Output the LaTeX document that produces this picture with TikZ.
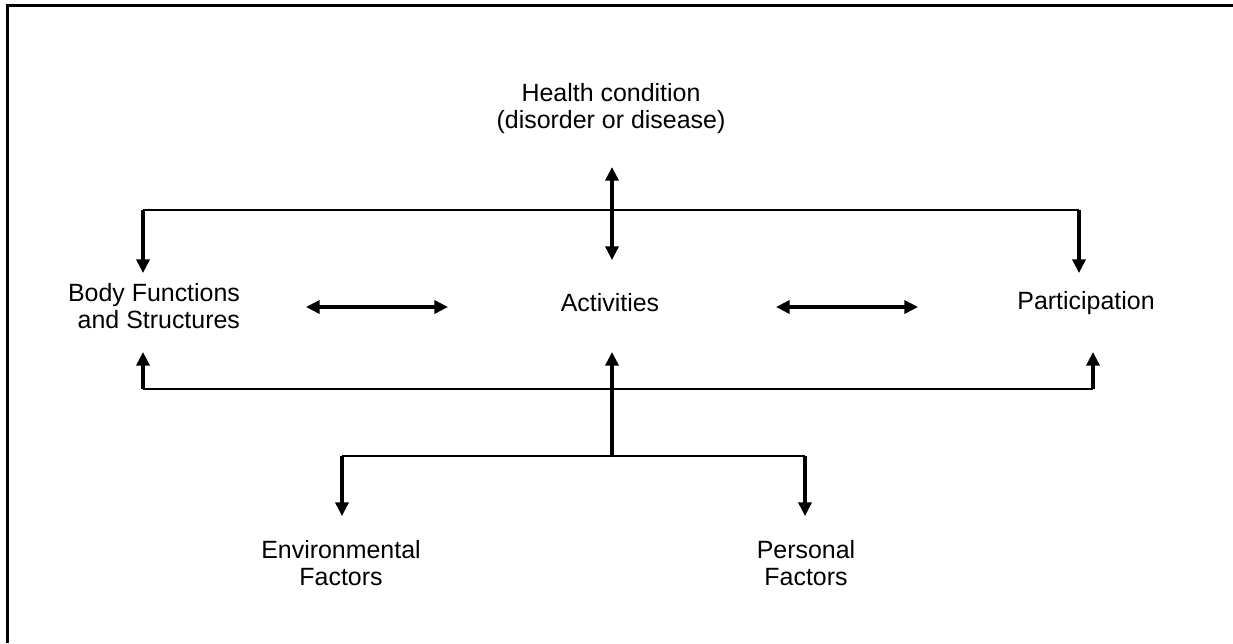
\documentclass[tikz,border=0pt]{standalone}
\usepackage{fontspec}
\setmainfont{Liberation Sans}
\usetikzlibrary{arrows.meta}
\tikzset {
    label text/.style={
        font=\fontsize{14.2}{15.4}\selectfont,
        align=center,
        inner sep=0pt,
    },
    frame line/.style={
        draw=black,
        line width=1.6pt,
    },
    thin line/.style={
        draw=black,
        line width=0.85pt,
    },
    arrow line/.style={
        draw=black,
        line width=1.8pt,
        -{Triangle[length=7.8pt,width=7.5pt]},
    },
    double arrow/.style={
        arrow line,
        {Triangle[length=7.8pt,width=7.5pt]}-{Triangle[length=7.8pt,width=7.5pt]},
    },
}

\begin{document}
\begin{tikzpicture}[x=0.02cm, y=-0.02cm]
        \useasboundingbox (0,0) rectangle (1233,643);

        % frame (only top and left edges show)
        \coordinate (frameBL) at (7.8,643);
        \coordinate (frameTL) at (7.8,5.5);
        \coordinate (frameTR) at (1233,5.5);
        \draw[frame line] (frameBL) -- (frameTL) -- (frameTR);

        \node[label text] at (611,109) (health) {Health condition\\(disorder or disease)};
        \node[label text, align=right] at (154,306) (body) {Body Functions\\and Structures};
        \node[label text] at (610,303) (act) {Activities};
        \node[label text] at (1086,303) (part) {Participation};
        \node[label text] at (341,563) (env) {Environmental\\Factors};
        \node[label text] at (806,563) (pers) {Personal\\Factors};

        % points of the connectors
        \coordinate (hcTop) at (612,167);
        \coordinate (hcBot) at (612,260);
        \coordinate (upL) at (143,210);
        \coordinate (upR) at (1079,210);
        \coordinate (upLend) at (143,273);
        \coordinate (upRend) at (1079,273);
        \coordinate (loL) at (143,389);
        \coordinate (loR) at (1093,389);
        \coordinate (loLend) at (143,352);
        \coordinate (loRend) at (1093,352);
        \coordinate (bfA) at (306,307);
        \coordinate (bfB) at (448,307);
        \coordinate (paA) at (776,307);
        \coordinate (paB) at (918,307);
        \coordinate (fcMid) at (612,457);
        \coordinate (actBot) at (612,352);
        \coordinate (fcL) at (342,456);
        \coordinate (fcR) at (805,456);
        \coordinate (fcLend) at (342,516);
        \coordinate (fcRend) at (805,516);

        \draw[thin line] (upL) -- (upR);
        \draw[thin line] (loL) -- (loR);
        \draw[thin line] (fcL) -- (fcR);
        \draw[double arrow] (hcTop) -- (hcBot);
        \draw[arrow line] (upL) -- (upLend);
        \draw[arrow line] (upR) -- (upRend);
        \draw[arrow line] (loL) -- (loLend);
        \draw[arrow line] (loR) -- (loRend);
        \draw[double arrow] (bfA) -- (bfB);
        \draw[double arrow] (paA) -- (paB);
        \draw[arrow line] (fcMid) -- (actBot);
        \draw[arrow line] (fcL) -- (fcLend);
        \draw[arrow line] (fcR) -- (fcRend);
    \end{tikzpicture}
\end{document}
